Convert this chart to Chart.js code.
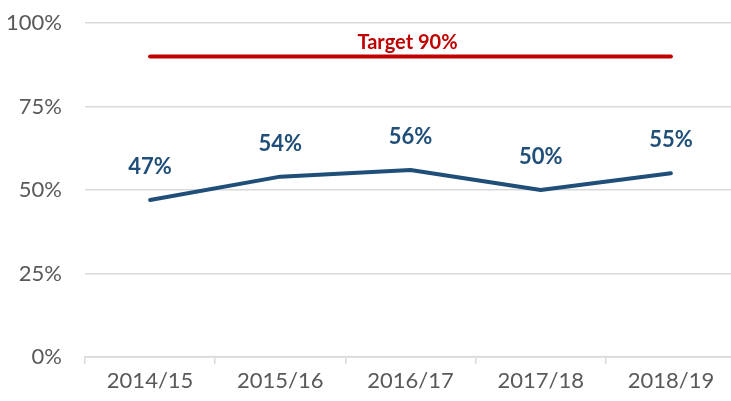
<!DOCTYPE html>
<html><head><meta charset="utf-8">
<script src="https://cdn.jsdelivr.net/npm/chart.js@4/dist/chart.umd.min.js"></script>
<style>html,body{margin:0;padding:0;background:#fff;overflow:hidden}#wrap{width:736px;height:401px;position:relative}</style>
</head><body><div id="wrap"><canvas id="c"></canvas></div>
<script>
const categories = ["2014/15","2015/16","2016/17","2017/18","2018/19"];
const actualValues = [47,54,56,50,55];
const targetValues = [90,90,90,90,90];
const targetLabel = "Target 90%";
const yTicks = [0,25,50,75,100];

const FONT = "Lato, 'Open Sans', sans-serif";
const labelPlugin = {
  id: 'labels',
  afterDatasetsDraw(chart) {
    const ctx = chart.ctx;
    ctx.save();
    ctx.textAlign = 'center';
    ctx.textBaseline = 'middle';
    ctx.font = "bold 22px " + FONT;
    ctx.fillStyle = '#1F4E79';
    const meta = chart.getDatasetMeta(0);
    meta.data.forEach((el, i) => {
      ctx.fillText(actualValues[i] + '%', el.x, el.y - 33);
    });
    const tmeta = chart.getDatasetMeta(1);
    const a = tmeta.data[0], b = tmeta.data[tmeta.data.length - 1];
    ctx.fillStyle = '#C00000';
    ctx.font = "bold 20px " + FONT;
    ctx.fillText(targetLabel, (a.x + b.x) / 2 - 3, a.y - 14);
    ctx.restore();
  }
};

new Chart(document.getElementById('c'), {
  type: 'line',
  data: {
    labels: categories,
    datasets: [
      { data: actualValues, borderColor: '#1F4E79', borderWidth: 4, pointRadius: 0, tension: 0, borderCapStyle: 'round', borderJoinStyle: 'round' },
      { data: targetValues, borderColor: '#C00000', borderWidth: 4, pointRadius: 0, tension: 0, borderCapStyle: 'round' }
    ]
  },
  options: {
    responsive: true, maintainAspectRatio: false, animation: false,
    layout: { padding: { top: 23, right: 0, left: 0, bottom: 0 } },
    plugins: { legend: { display: false }, tooltip: { enabled: false } },
    scales: {
      x: {
        offset: true,
        grid: { offset: true, drawOnChartArea: false, drawTicks: true, tickLength: 7, color: '#D9D9D9', lineWidth: 1.5 },
        border: { color: '#D9D9D9', width: 1.5 },
        ticks: { color: '#595959', font: { family: FONT, size: 22 }, padding: 4, maxRotation: 0 },
        afterFit(s) { s.height = 44; s.paddingLeft = 0; s.paddingRight = 0; }
      },
      y: {
        min: 0, max: 100,
        afterBuildTicks(s) { s.ticks = yTicks.map(v => ({ value: v })); },
        grid: { color: '#D9D9D9', lineWidth: 1.5, drawTicks: false },
        border: { display: false },
        ticks: { color: '#595959', font: { family: FONT, size: 22 }, padding: 23, callback: v => v + '%' },
        afterFit(s) { s.width = 85; s.paddingTop = 0; s.paddingBottom = 0; }
      }
    }
  },
  plugins: [labelPlugin]
});
</script></body></html>
